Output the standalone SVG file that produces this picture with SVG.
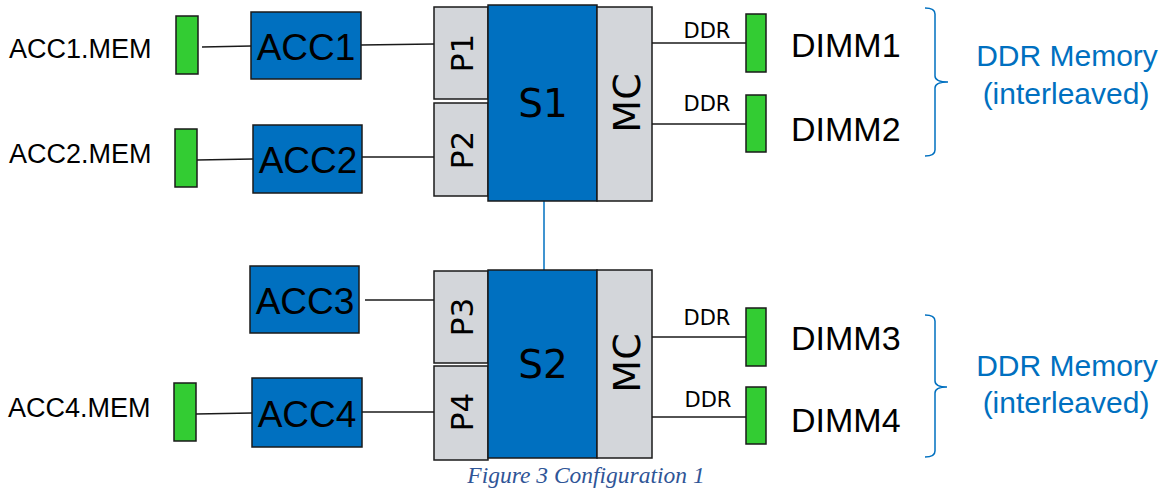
<svg xmlns="http://www.w3.org/2000/svg" width="1169" height="490" viewBox="0 0 1169 490">
<style>
.acc{fill:#0070C0;stroke:#1a1a1a;stroke-width:1.5}
.grey{fill:#D3D6DA;stroke:#1a1a1a;stroke-width:1.5}
.dimm{fill:#33CC33;stroke:#1a1a1a;stroke-width:1.5}
.ln{stroke:#1a1a1a;stroke-width:1.5;fill:none}
.blue{stroke:#0070C0;stroke-width:1.5;fill:none}
.ta{font-family:"Liberation Sans",Arial,sans-serif;fill:#000}
.tv{font-family:"DejaVu Sans",Verdana,sans-serif;fill:#000}
.tb{font-family:"Liberation Sans",Arial,sans-serif;fill:#0070C0}
.cap{font-family:"Liberation Serif","Times New Roman",serif;font-style:italic;fill:#2F5597}
</style>
<rect width="1169" height="490" fill="#fff"/>

<g id="connectors">
<line class="ln" x1="202" y1="47" x2="251" y2="46"/>
<line class="ln" x1="361" y1="45" x2="434" y2="44"/>
<line class="ln" x1="197" y1="160" x2="253" y2="159"/>
<line class="ln" x1="362" y1="157" x2="434" y2="157"/>
<line class="ln" x1="365" y1="300" x2="434" y2="300"/>
<line class="ln" x1="196" y1="414" x2="252" y2="413"/>
<line class="ln" x1="362" y1="412" x2="434" y2="412"/>
<line class="ln" x1="652" y1="43" x2="746" y2="43"/>
<line class="ln" x1="652" y1="124" x2="746" y2="124"/>
<line class="ln" x1="652" y1="337" x2="746" y2="337"/>
<line class="ln" x1="652" y1="417" x2="746" y2="417"/>
<line class="blue" x1="544" y1="201" x2="544" y2="270"/>
<text class="tv" x="707" y="38" font-size="21" text-anchor="middle">DDR</text>
<text class="tv" x="707" y="111" font-size="21" text-anchor="middle">DDR</text>
<text class="tv" x="707" y="325" font-size="21" text-anchor="middle">DDR</text>
<text class="tv" x="708" y="407" font-size="21" text-anchor="middle">DDR</text>
</g>

<g id="acc1mem">
<text class="ta" x="9" y="58" font-size="27">ACC1.MEM</text>
<rect class="dimm" x="176" y="16" width="22" height="58"/>
</g>
<g id="acc2mem">
<text class="ta" x="9" y="163" font-size="27">ACC2.MEM</text>
<rect class="dimm" x="175" y="129" width="22" height="58"/>
</g>
<g id="acc4mem">
<text class="ta" x="8" y="417" font-size="27">ACC4.MEM</text>
<rect class="dimm" x="174" y="383" width="22" height="58"/>
</g>

<g id="acc1">
<rect class="acc" x="251" y="12" width="110" height="67"/>
<text class="ta" x="306" y="60" font-size="37" text-anchor="middle">ACC1</text>
</g>
<g id="acc2">
<rect class="acc" x="253" y="125" width="109" height="68"/>
<text class="ta" x="308" y="173" font-size="37" text-anchor="middle">ACC2</text>
</g>
<g id="acc3">
<rect class="acc" x="250" y="266" width="109" height="67"/>
<text class="ta" x="305" y="314" font-size="37" text-anchor="middle">ACC3</text>
</g>
<g id="acc4">
<rect class="acc" x="252" y="378" width="110" height="69"/>
<text class="ta" x="307" y="427" font-size="37" text-anchor="middle">ACC4</text>
</g>

<g id="s1">
<rect class="grey" x="434" y="7" width="54" height="92"/>
<text class="tv" font-size="31" text-anchor="middle" transform="translate(462,53) rotate(-90)" y="11">P1</text>
<rect class="grey" x="434" y="103" width="54" height="93"/>
<text class="tv" font-size="31" text-anchor="middle" transform="translate(462,150) rotate(-90)" y="11">P2</text>
<rect class="acc" x="488" y="5" width="109" height="196"/>
<text class="tv" x="543" y="117" font-size="39" text-anchor="middle">S1</text>
<rect class="grey" x="597" y="7" width="55" height="194"/>
<text class="tv" font-size="38" text-anchor="middle" transform="translate(626,103) rotate(-90)" y="14">MC</text>
</g>

<g id="s2">
<rect class="grey" x="434" y="271" width="54" height="92"/>
<text class="tv" font-size="31" text-anchor="middle" transform="translate(462,317) rotate(-90)" y="11">P3</text>
<rect class="grey" x="434" y="366" width="54" height="94"/>
<text class="tv" font-size="31" text-anchor="middle" transform="translate(462,412) rotate(-90)" y="11">P4</text>
<rect class="acc" x="488" y="270" width="109" height="188"/>
<text class="tv" x="543" y="378" font-size="39" text-anchor="middle">S2</text>
<rect class="grey" x="597" y="270" width="55" height="188"/>
<text class="tv" font-size="38" text-anchor="middle" transform="translate(626,363) rotate(-90)" y="14">MC</text>
</g>

<g id="dimm1">
<rect class="dimm" x="746" y="14" width="20" height="58"/>
<text class="ta" x="791" y="57" font-size="34">DIMM1</text>
</g>
<g id="dimm2">
<rect class="dimm" x="746" y="95" width="20" height="57"/>
<text class="ta" x="791" y="141" font-size="34">DIMM2</text>
</g>
<g id="dimm3">
<rect class="dimm" x="746" y="308" width="20" height="58"/>
<text class="ta" x="791" y="350" font-size="34">DIMM3</text>
</g>
<g id="dimm4">
<rect class="dimm" x="746" y="387" width="20" height="57"/>
<text class="ta" x="791" y="432" font-size="34">DIMM4</text>
</g>

<g id="mem1">
<path class="blue" d="M925,8 Q935,8 935,14 L935,76 Q935,82 948,82 Q935,82 935,88 L935,150 Q935,156 925,156"/>
<text class="tb" x="1067" y="66" font-size="30" text-anchor="middle">DDR Memory</text>
<text class="tb" x="1066" y="104" font-size="30" text-anchor="middle">(interleaved)</text>
</g>
<g id="mem2">
<path class="blue" d="M925,315 Q935,315 935,321 L935,381 Q935,387 947,387 Q935,387 935,393 L935,451 Q935,457 925,457"/>
<text class="tb" x="1067" y="376" font-size="30" text-anchor="middle">DDR Memory</text>
<text class="tb" x="1066" y="413" font-size="30" text-anchor="middle">(interleaved)</text>
</g>

<text class="cap" x="586" y="483" font-size="23.5" text-anchor="middle">Figure 3 Configuration 1</text>
</svg>
